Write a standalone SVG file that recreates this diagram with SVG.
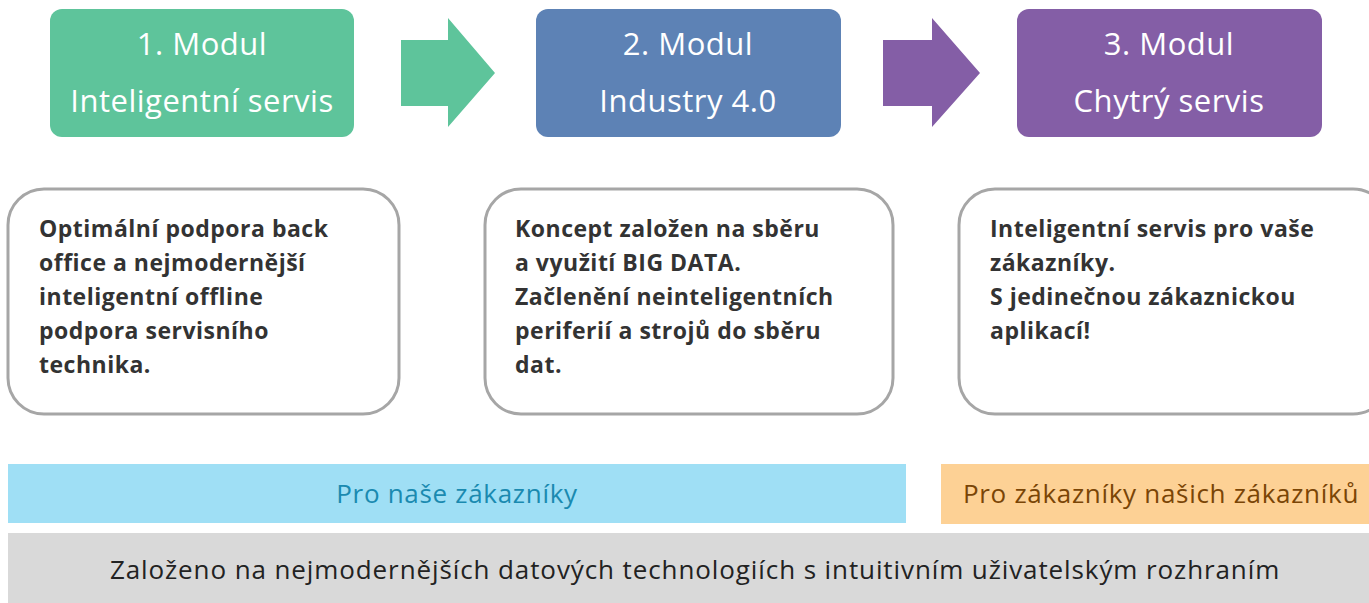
<svg xmlns="http://www.w3.org/2000/svg" width="1369" height="603" viewBox="0 0 1369 603">
<style>
.title{font-family:"Open Sans","Liberation Sans",sans-serif;font-size:31px;letter-spacing:0.5px;fill:#ffffff;text-anchor:middle}
.desc{font-family:"Open Sans","Liberation Sans",sans-serif;font-size:23px;letter-spacing:0.5px;font-weight:bold;fill:#333333}
.card{fill:#ffffff;stroke:#a6a6a6;stroke-width:3}
.band{font-family:"Open Sans","Liberation Sans",sans-serif;font-size:26px;letter-spacing:0.7px;text-anchor:middle}
</style>
<rect x="0" y="0" width="1369" height="603" fill="#ffffff"/>
<g id="connectors">
<polygon points="401,40 448,40 448,18 495,73 448,127 448,106 401,106" fill="#5ec49b"/>
<polygon points="883,40 932,40 932,18 980,73 932,127 932,106 883,106" fill="#845ea6"/>
</g>
<g id="modul1">
<rect x="50" y="9" width="304" height="128" rx="12" fill="#5ec49b"/>
<text class="title" x="202" y="55">1. Modul</text>
<text class="title" x="202" y="112">Inteligentní servis</text>
</g>
<g id="modul2">
<rect x="536" y="9" width="305" height="128" rx="12" fill="#5d82b5"/>
<text class="title" x="688" y="55">2. Modul</text>
<text class="title" x="688" y="112">Industry 4.0</text>
</g>
<g id="modul3">
<rect x="1017" y="9" width="305" height="128" rx="12" fill="#845ea6"/>
<text class="title" x="1169" y="55">3. Modul</text>
<text class="title" x="1169" y="112">Chytrý servis</text>
</g>
<g id="desc1">
<rect class="card" x="8" y="189" width="391" height="225" rx="36"/>
<text class="desc" x="39" y="237">Optimální podpora back</text>
<text class="desc" x="39" y="271">office a nejmodernější</text>
<text class="desc" x="39" y="305">inteligentní offline</text>
<text class="desc" x="39" y="339">podpora servisního</text>
<text class="desc" x="39" y="373">technika.</text>
</g>
<g id="desc2">
<rect class="card" x="485" y="189" width="408" height="225" rx="36"/>
<text class="desc" x="515" y="237">Koncept založen na sběru</text>
<text class="desc" x="515" y="271">a využití BIG DATA.</text>
<text class="desc" x="515" y="305">Začlenění neinteligentních</text>
<text class="desc" x="515" y="339">periferií a strojů do sběru</text>
<text class="desc" x="515" y="373">dat.</text>
</g>
<g id="desc3">
<rect class="card" x="959" y="189" width="430" height="225" rx="36"/>
<text class="desc" x="990" y="237">Inteligentní servis pro vaše</text>
<text class="desc" x="990" y="271">zákazníky.</text>
<text class="desc" x="990" y="305">S jedinečnou zákaznickou</text>
<text class="desc" x="990" y="339">aplikací!</text>
</g>
<g id="band-ours">
<rect x="8" y="464" width="898" height="59" fill="#9fdff5"/>
<text class="band" x="457" y="503" fill="#1a8ab0">Pro naše zákazníky</text>
</g>
<g id="band-theirs">
<rect x="941" y="464" width="428" height="60" fill="#fdd195"/>
<text class="band" x="1161" y="503" fill="#7a4506">Pro zákazníky našich zákazníků</text>
</g>
<g id="band-base">
<rect x="8" y="533" width="1361" height="70" fill="#d9d9d9"/>
<text class="band" x="695" y="579" fill="#222222" style="letter-spacing:0.9px">Založeno na nejmodernějších datových technologiích s intuitivním uživatelským rozhraním</text>
</g>
</svg>
